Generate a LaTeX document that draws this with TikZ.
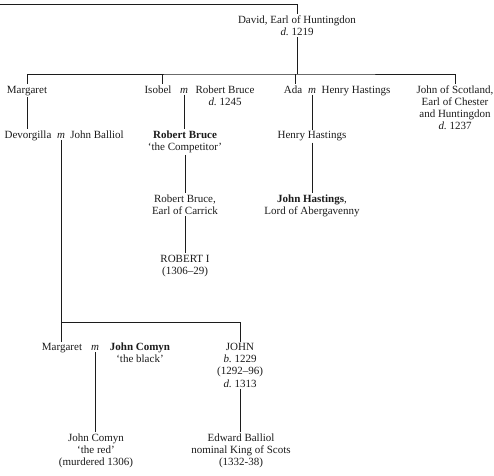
\documentclass[tikz,border=0pt]{standalone}
\usepackage{fontspec}
\setmainfont{Liberation Serif}
\usepackage{tikz}
\usetikzlibrary{positioning}
\DeclareRobustCommand{\died}{\textit{d.}~}
\DeclareRobustCommand{\born}{\textit{b.}~}
\definecolor{FTInk}{HTML}{1C1C1C}
\definecolor{FTPaper}{HTML}{FFFFFF}
\tikzset{
  ftPerson/.style={
    align=center, anchor=base, inner sep=1.5pt, text=FTInk,
    font=\fontsize{11}{12.2}\selectfont
  },
  ftWed/.style={ftPerson, font=\fontsize{11}{12.2}\selectfont\itshape},
  ftLine/.style={draw=FTInk, line width=0.8pt}
}

\begin{document}
\begin{tikzpicture}[x=1pt, y=-1pt]
  \fill[FTPaper] (0,0) rectangle (494,475);
  \useasboundingbox (0,0) rectangle (494,475);

  % generation of David (base = last line of each node)
  \node[ftPerson] (david) at (297,35.2) {David, Earl of Huntingdon\\\died1219};
  \node[ftPerson] (margaret) at (27,93) {Margaret};
  \node[ftPerson] (isobel) at (158,93) {Isobel};
  \node[ftWed] (m1) at (184,93) {m};
  \node[ftPerson] (rbruce) at (225,105.2) {Robert Bruce\\\died1245};
  \node[ftPerson] (ada) at (293,93) {Ada};
  \node[ftWed] (m2) at (312,93) {m};
  \node[ftPerson] (hhastings) at (356,93) {Henry Hastings};
  \node[ftPerson] (johnscot) at (455,129.6) {John of Scotland,\\Earl of Chester\\and Huntingdon\\\died1237};

  % grandchildren
  \node[ftPerson] (devorgilla) at (28,138.5) {Devorgilla};
  \node[ftWed] (m3) at (61,138.5) {m};
  \node[ftPerson] (jballiol) at (97,138.5) {John Balliol};
  \node[ftPerson] (rbcomp) at (185,150.7) {\textbf{Robert Bruce}\\`the Competitor'};
  \node[ftPerson] (hhastings2) at (312,138.5) {Henry Hastings};

  \node[ftPerson] (rbcarrick) at (185,214.2) {Robert Bruce,\\Earl of Carrick};
  \node[ftPerson] (jhastings) at (312,214.2) {\textbf{John Hastings},\\Lord of Abergavenny};
  \node[ftPerson] (robert1) at (185,274.2) {ROBERT I\\(1306--29)};

  % Balliol line
  \node[ftPerson] (margaret2) at (62,350.5) {Margaret};
  \node[ftWed] (m4) at (95,350.5) {m};
  \node[ftPerson] (jcomyn) at (140,362.7) {\textbf{John Comyn}\\`the black'};
  \node[ftPerson] (john) at (240,387.1) {JOHN\\\born1229\\(1292--96)\\\died1313};
  \node[ftPerson] (jcomynred) at (96,465.4) {John Comyn\\`the red'\\(murdered 1306)};
  \node[ftPerson] (edward) at (241,465.4) {Edward Balliol\\nominal King of Scots\\(1332-38)};

  \coordinate (upline) at (0,4);
  \coordinate (sibs) at (297,74);
  \coordinate (issue) at (61,322);

  \draw[ftLine] (upline) -| (david.north);
  \draw[ftLine] (david.south) -- (sibs);
  \draw[ftLine] (margaret.north) |- (sibs) -| (johnscot.north);
  \draw[ftLine] ([xshift=4pt]isobel.north) -- ([xshift=4pt]isobel.north |- sibs);
  \draw[ftLine] ([xshift=2pt]ada.north) -- ([xshift=2pt]ada.north |- sibs);

  \draw[ftLine] (margaret.south) -- (margaret.south |- devorgilla.north);
  \draw[ftLine] (m1.south) -- (m1.south |- rbcomp.north);
  \draw[ftLine] (rbcomp.south) -- (rbcarrick.north);
  \draw[ftLine] (rbcarrick.south) -- (robert1.north);
  \draw[ftLine] (m2.south) -- (m2.south |- hhastings2.north);
  \draw[ftLine] (hhastings2.south) -- (jhastings.north);

  \draw[ftLine] (m3.south) -- (m3.south |- margaret2.north);
  \draw[ftLine] (issue) -| (john.north);
  \draw[ftLine] (m4.south) -- (m4.south |- jcomynred.north);
  \draw[ftLine] (john.south) -- (john.south |- edward.north);
\end{tikzpicture}
\end{document}
